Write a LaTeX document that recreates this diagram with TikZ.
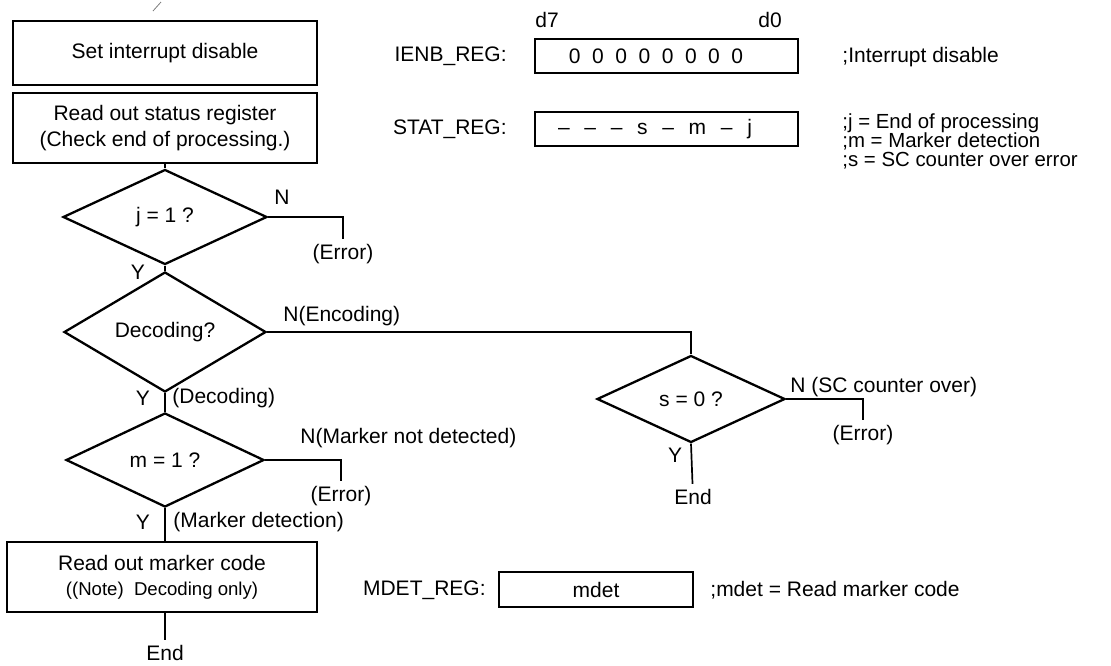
\documentclass[tikz,border=0pt]{standalone}
\usepackage{fontspec}
\setmainfont{Liberation Sans}
\usetikzlibrary{shapes.geometric}
\newcommand\tightlines{\fontsize{10.2}{9.5}\selectfont\lineskiplimit=-20pt\relax}
\begin{document}
\begin{tikzpicture}[x=0.5pt,y=-0.5pt,font=\fontsize{10.5}{13}\selectfont,
  box/.style={draw,line width=1.35pt,inner sep=0pt,align=center},
  decision/.style={diamond,draw,line width=1.15pt,inner sep=0pt},
  reg/.style={draw,line width=1.1pt,minimum height=17pt,inner sep=0pt},
  lbl/.style={inner sep=0pt},
  term/.style={inner sep=2.5pt},
  flow/.style={line width=0.85pt}]
\useasboundingbox (0,0) rectangle (1111,665);
%flow = disable, status, j, decoding, m, marker code
\draw [line width=0.4pt,gray] (153,11) -- (161,2);
\node [box,minimum width=152pt,minimum height=32pt] (setdis) at (165,53) {Set interrupt disable};
\node [box,minimum width=152pt,minimum height=35pt] (readstat) at (165,128) {Read out status register\\(Check end of processing.)};
\node [decision,minimum width=102pt,minimum height=47.5pt] (jdone) at (165,217) {j = 1 ?};
\node [decision,minimum width=101pt,minimum height=46.5pt] (decq) at (165,332) {Decoding?};
\node [decision,minimum width=99pt,minimum height=47pt] (mdone) at (165,460) {m = 1 ?};
\node [decision,minimum width=94pt,minimum height=43.5pt] (szero) at (691,399) {s = 0 ?};
\node [box,minimum width=155pt,minimum height=35pt] (readmark) at (162,577) {Read out marker code\\[-0.5pt]{\fontsize{9.3}{11}\selectfont ((Note)\ \ Decoding only)}};

\node [term] (err1) at (343,254) {(Error)};
\node [term] (err2) at (341,496) {(Error)};
\node [term] (err3) at (863,435) {(Error)};
\node [term] (end1) at (165,653) {End};
\node [term] (end2) at (693,497) {End};

\draw [flow] (readstat) -- (jdone);
\draw [flow] (jdone) -- (decq);
\draw [flow] (decq) -- (mdone);
\draw [flow] (mdone.south) -- (mdone.south |- readmark.north);
\draw [flow] (end1.north |- readmark.south) -- (end1);
\draw [flow] (jdone.east) -| (err1.north);
\draw [flow] (mdone.east) -| (err2.north);
\draw [flow] (szero.east) -| (err3.north);
\draw [flow] (decq.east) -| (szero.north);
\draw [flow] (szero.south) -- (end2);

\node [lbl] (n1) at (282,197) {N};
\node [lbl] (y1) at (138,272) {Y};
\node [lbl,anchor=west] (n2) at (283,316) {N(Encoding)};
\node [lbl] (y2) at (143,398) {Y};
\node [lbl,anchor=west] (y2txt) at (172,398) {(Decoding)};
\node [lbl,anchor=west] (n3) at (300,438) {N(Marker not detected)};
\node [lbl] (y3) at (143,522) {Y};
\node [lbl,anchor=west] (y3txt) at (173,522) {(Marker detection)};
\node [lbl,anchor=west] (n4) at (790,387) {N (SC counter over)};
\node [lbl] (y4) at (675,455) {Y};

%registers
\node [lbl] (d7) at (547,20) {d7};
\node [lbl] (d0) at (770,20) {d0};
\node [lbl,anchor=east] (ienblbl) at (507,56) {IENB\_REG:};
\node [reg,minimum width=131.5pt] (ienb) at (666.5,56) {};
\node [lbl] (ienbbits) at (656,56) {0\hspace{.55em}0\hspace{.55em}0\hspace{.55em}0\hspace{.55em}0\hspace{.55em}0\hspace{.55em}0\hspace{.55em}0};
\node [lbl,anchor=west] (ienbnote) at (842,57) {;Interrupt disable};
\node [lbl,anchor=east] (statlbl) at (507,129) {STAT\_REG:};
\node [reg,minimum width=131.5pt] (stat) at (666.5,129) {};
\node [lbl] (statbits) at (655,129) {--\hspace{.7em}--\hspace{.7em}--\hspace{.7em}s\hspace{.7em}--\hspace{.7em}m\hspace{.7em}--\hspace{.7em}j};
\node [lbl,anchor=west,align=left,font=\tightlines] (statnote) at (842,141.5) {;j = End of processing\\;m = Marker detection\\;s = SC counter over error};
\node [lbl,anchor=east] (mdetlbl) at (486,590) {MDET\_REG:};
\node [reg,minimum width=97pt,minimum height=17.5pt] (mdet) at (596,589.5) {mdet};
\node [lbl,anchor=west] (mdetnote) at (710,590) {;mdet = Read marker code};
\end{tikzpicture}
\end{document}
